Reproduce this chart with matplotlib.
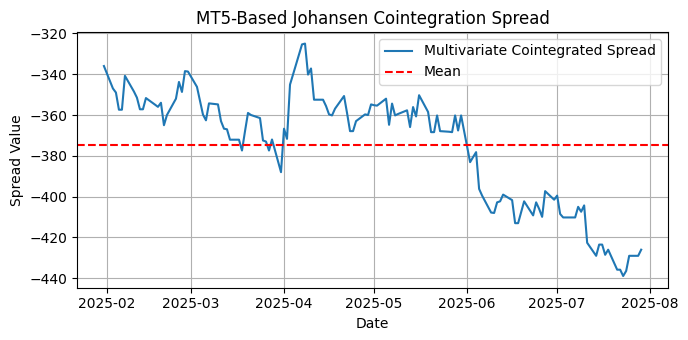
import numpy as np
import pandas as pd
import matplotlib
matplotlib.use("Agg")
import matplotlib.pyplot as plt

# Daily spread values (weekdays) from the MT5 Johansen model
dates = [
    "2025-01-31", "2025-02-03", "2025-02-04", "2025-02-05", "2025-02-06", "2025-02-07",
    "2025-02-10", "2025-02-11", "2025-02-12", "2025-02-13", "2025-02-14", "2025-02-17",
    "2025-02-18", "2025-02-19", "2025-02-20", "2025-02-21", "2025-02-24", "2025-02-25",
    "2025-02-26", "2025-02-27", "2025-02-28", "2025-03-03", "2025-03-04", "2025-03-05",
    "2025-03-06", "2025-03-07", "2025-03-10", "2025-03-11", "2025-03-12", "2025-03-13",
    "2025-03-14", "2025-03-17", "2025-03-18", "2025-03-19", "2025-03-20", "2025-03-21",
    "2025-03-24", "2025-03-25", "2025-03-26", "2025-03-27", "2025-03-28", "2025-03-31",
    "2025-04-01", "2025-04-02", "2025-04-03", "2025-04-04", "2025-04-07", "2025-04-08",
    "2025-04-09", "2025-04-10", "2025-04-11", "2025-04-14", "2025-04-15", "2025-04-16",
    "2025-04-17", "2025-04-18", "2025-04-21", "2025-04-22", "2025-04-23", "2025-04-24",
    "2025-04-25", "2025-04-28", "2025-04-29", "2025-04-30", "2025-05-01", "2025-05-02",
    "2025-05-05", "2025-05-06", "2025-05-07", "2025-05-08", "2025-05-09", "2025-05-12",
    "2025-05-13", "2025-05-14", "2025-05-15", "2025-05-16", "2025-05-19", "2025-05-20",
    "2025-05-21", "2025-05-22", "2025-05-23", "2025-05-26", "2025-05-27", "2025-05-28",
    "2025-05-29", "2025-05-30", "2025-06-02", "2025-06-03", "2025-06-04", "2025-06-05",
    "2025-06-06", "2025-06-09", "2025-06-10", "2025-06-11", "2025-06-12", "2025-06-13",
    "2025-06-16", "2025-06-17", "2025-06-18", "2025-06-20", "2025-06-23", "2025-06-24",
    "2025-06-25", "2025-06-26", "2025-06-27", "2025-06-30", "2025-07-01", "2025-07-02",
    "2025-07-03", "2025-07-04", "2025-07-07", "2025-07-08", "2025-07-09", "2025-07-10",
    "2025-07-11", "2025-07-14", "2025-07-15", "2025-07-16", "2025-07-17", "2025-07-18",
    "2025-07-21", "2025-07-22", "2025-07-23", "2025-07-24", "2025-07-25", "2025-07-28",
    "2025-07-29",
]
spread = [
    -336.0, -347.0, -349.0, -357.4, -357.4, -340.8,
    -348.5, -351.5, -357.2, -357.2, -351.7, -354.9,
    -356.0, -354.0, -365.0, -360.0, -352.0, -343.8,
    -348.7, -338.5, -338.7, -346.2, -353.0, -359.8,
    -362.6, -354.3, -354.8, -363.0, -366.7, -367.0,
    -372.1, -372.1, -377.4, -368.0, -359.0, -360.0,
    -361.5, -372.5, -373.0, -377.4, -372.0, -388.0,
    -366.7, -371.7, -345.1, -340.2, -325.4, -325.0,
    -340.2, -337.2, -352.5, -352.5, -355.6, -359.7,
    -360.2, -356.9, -350.7, -359.0, -367.9, -367.9,
    -363.0, -359.7, -360.0, -354.8, -355.2, -355.4,
    -352.0, -364.8, -354.4, -360.2, -359.5, -357.7,
    -365.9, -356.1, -360.7, -350.3, -358.5, -368.4,
    -368.4, -360.2, -367.9, -368.2, -368.4, -360.2,
    -367.6, -360.2, -383.1, -380.6, -378.2, -396.2,
    -399.5, -407.8, -408.0, -402.8, -402.3, -399.0,
    -401.7, -413.0, -413.0, -402.3, -409.2, -402.8,
    -406.0, -409.9, -397.3, -401.5, -399.5, -408.5,
    -410.2, -410.2, -410.2, -405.0, -407.4, -404.3,
    -422.6, -429.0, -423.5, -423.5, -428.5, -426.0,
    -435.8, -435.8, -438.9, -436.4, -429.0, -429.0,
    -426.0,
]

df = pd.DataFrame({"spread": spread}, index=pd.to_datetime(dates))

fig, ax = plt.subplots(figsize=(6.88, 3.40), dpi=100)
ax.plot(df.index, df["spread"], color="#1f77b4", label="Multivariate Cointegrated Spread")
ax.axhline(df["spread"].mean(), color="red", linestyle="--", label="Mean")
ax.set_title("MT5-Based Johansen Cointegration Spread")
ax.set_xlabel("Date")
ax.set_ylabel("Spread Value")
ax.legend(loc="upper right")
ax.grid(True)
fig.subplots_adjust(left=0.112, right=0.971, top=0.906, bottom=0.154)
plt.savefig("out.png", dpi=100)
